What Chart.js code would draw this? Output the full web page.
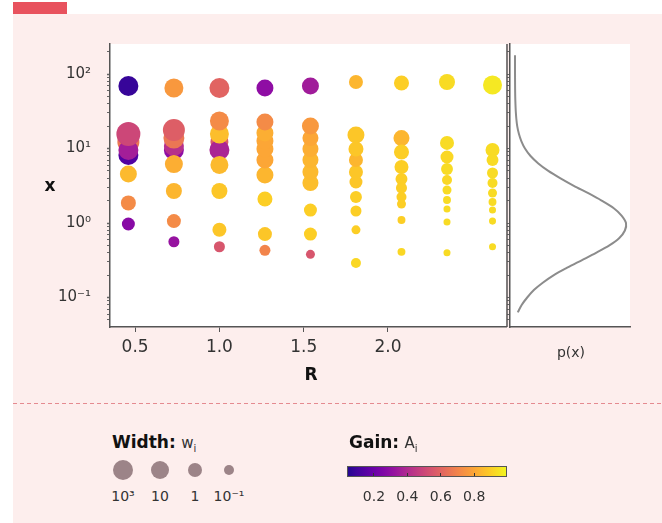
<!DOCTYPE html>
<html><head><meta charset="utf-8">
<script src="https://cdn.jsdelivr.net/npm/chart.js@4.4.0/dist/chart.umd.min.js"></script>
<style>
body{margin:0;width:662px;height:523px;background:#fff;position:relative;overflow:hidden;font-family:"DejaVu Sans",sans-serif;color:#333;}
#panel{position:absolute;left:13px;top:14px;width:649px;height:509px;background:#fdeeed;}
#redbar{position:absolute;left:13px;top:2px;width:54px;height:12px;background:#e8525e;}
.abs{position:absolute;white-space:nowrap;}
.ctr{transform:translate(-50%,-50%);}
#dash{position:absolute;left:13px;top:403px;width:649px;height:1px;background:repeating-linear-gradient(to right,#e58a90 0 4px,transparent 4px 7px);}
canvas{position:absolute;top:0;}
.lg{position:absolute;border-radius:50%;background:#9c8488;transform:translate(-50%,-50%);}
</style></head>
<body>
<div id="panel"></div>
<div id="redbar"></div>
<canvas id="main" width="508" height="400" style="left:0"></canvas>
<canvas id="side" width="162" height="400" style="left:500px"></canvas>
<div class="abs ctr" style="left:50px;top:185px;font-weight:bold;font-size:17px;color:#111">x</div>
<div class="abs ctr" style="left:311px;top:374px;font-weight:bold;font-size:17px;color:#111">R</div>
<div class="abs ctr" style="left:571px;top:352px;font-size:14px;color:#333">p(x)</div>
<div id="dash"></div>
<div class="abs" style="left:112px;top:432px;font-size:17px;color:#111"><b>Width:</b> <span style="font-size:15px;color:#333">w<sub style="font-size:10px">i</sub></span></div>
<div class="abs" style="left:349px;top:432px;font-size:17px;color:#111"><b>Gain:</b> <span style="font-size:15px;color:#333">A<sub style="font-size:10px">i</sub></span></div>
<div id="legend"></div>
<div id="cbar"></div>
<script>
// ---- data ----
const R = [0.46, 0.73, 1.0, 1.27, 1.54, 1.81, 2.08, 2.35, 2.62];
const X = [
  [69.0, 8.18, 12.2, 9.55, 15.7, 4.55, 1.86, 0.97],
  [64.9, 9.55, 10.8, 13.8, 17.7, 6.19, 2.69, 1.06, 0.56],
  [64.9, 12.2, 9.55, 15.7, 23.4, 6.01, 2.69, 0.81, 0.48],
  [64.9, 4.41, 7.01, 9.85, 12.6, 16.1, 22.7, 2.10, 0.71, 0.43],
  [69.0, 3.44, 4.84, 7.01, 9.85, 13.8, 20.0, 1.49, 0.71, 0.38],
  [78.1, 3.55, 4.84, 7.01, 9.85, 15.2, 2.23, 1.45, 0.81, 0.29],
  [75.7, 13.8, 8.97, 5.65, 3.90, 2.95, 2.23, 1.80, 1.10, 0.41],
  [78.1, 11.9, 7.69, 5.31, 3.78, 2.77, 2.04, 1.54, 1.03, 0.40],
  [71.2, 9.55, 7.01, 4.69, 3.44, 2.53, 1.91, 1.49, 1.06, 0.48]
];
const A = [
  [0.08, 0.14, 0.66, 0.36, 0.50, 0.85, 0.72, 0.28],
  [0.76, 0.30, 0.42, 0.66, 0.58, 0.82, 0.84, 0.72, 0.32],
  [0.60, 0.56, 0.38, 0.86, 0.72, 0.85, 0.88, 0.88, 0.55],
  [0.30, 0.84, 0.80, 0.80, 0.80, 0.82, 0.72, 0.90, 0.88, 0.70],
  [0.35, 0.86, 0.85, 0.84, 0.82, 0.80, 0.76, 0.90, 0.90, 0.55],
  [0.84, 0.88, 0.88, 0.84, 0.88, 0.88, 0.90, 0.90, 0.90, 0.92],
  [0.90, 0.84, 0.90, 0.90, 0.90, 0.90, 0.90, 0.90, 0.90, 0.92],
  [0.93, 0.93, 0.92, 0.93, 0.92, 0.93, 0.93, 0.93, 0.93, 0.93],
  [0.96, 0.93, 0.93, 0.93, 0.93, 0.93, 0.93, 0.93, 0.93, 0.93]
];
const W = [
  [1000, 1000, 1e4, 1000, 1e5, 5.6, 1.8, 0.56],
  [100, 1000, 1000, 3000, 1e4, 10, 3.2, 1, 0.18],
  [1000, 10, 1000, 100, 100, 10, 3.2, 1, 0.18],
  [5.6, 5.6, 5.6, 5.6, 5.6, 5.6, 5.6, 1.8, 1, 0.18],
  [5.6, 3.2, 3.2, 3.2, 3.2, 3.2, 5.6, 0.56, 0.56, 0.056],
  [1, 0.56, 1, 1, 1.8, 5.6, 0.3, 0.18, 0.056, 0.1],
  [1.8, 3.2, 1.8, 1, 0.3, 0.18, 0.1, 0.056, 0.03, 0.03],
  [3.2, 1, 0.56, 0.3, 0.1, 0.056, 0.03, 0.018, 0.018, 0.018],
  [100, 1, 0.3, 0.18, 0.1, 0.056, 0.03, 0.018, 0.018, 0.018]
];
// density p(x)
const pX = [178, 126, 100, 79.4, 63.1, 50.1, 39.8, 31.6, 25.1, 20.0, 15.8, 12.6, 10, 7.94, 6.31, 5.01, 3.98, 3.16, 2.51, 2.0, 1.58, 1.26, 1.0, 0.794, 0.631, 0.501, 0.398, 0.316, 0.251, 0.2, 0.158, 0.126, 0.1, 0.0794, 0.0631];
const pDensity = [0, 0, 0.0002, 0.0005, 0.001, 0.002, 0.004, 0.007, 0.012, 0.02, 0.035, 0.057, 0.09, 0.14, 0.21, 0.30, 0.41, 0.53, 0.66, 0.78, 0.89, 0.96, 1.0, 0.99, 0.94, 0.85, 0.73, 0.60, 0.47, 0.35, 0.25, 0.17, 0.11, 0.06, 0.025];
// ticks
const xTickValues = [0.5, 1.0, 1.5, 2.0];
const xTickLabels = ["0.5", "1.0", "1.5", "2.0"];
const yTickValues = [0.1, 1, 10, 100];
const yTickLabels = ["10\u207B\u00B9", "10\u2070", "10\u00B9", "10\u00B2"];
const legendWidths = [1000, 10, 1, 0.1];
const legendLabels = ["10\u00B3", "10", "1", "10\u207B\u00B9"];
const cbTickValues = [0.2, 0.4, 0.6, 0.8];
const cbTickLabels = ["0.2", "0.4", "0.6", "0.8"];
const cbMin = 0.045, cbMax = 0.99;

// ---- styling helpers ----
const plasmaStops = ["#0d0887","#41049d","#6a00a8","#8f0da4","#b12a90","#cc4778","#e16462","#f2844b","#fca636","#fcce25","#f0f921"];
function hex2rgb(h){return [1,3,5].map(i=>parseInt(h.substr(i,2),16));}
function plasma(t){
  t=Math.max(0,Math.min(1,t));
  const p=t*10, i=Math.min(9,Math.floor(p)), f=p-i;
  const a=hex2rgb(plasmaStops[i]), b=hex2rgb(plasmaStops[i+1]);
  return 'rgb('+a.map((v,k)=>Math.round(v+(b[k]-v)*f)).join(',')+')';
}
const rL=[-2,-1,0,1,3,5], rR=[3,5,7,9,10,12];
function radiusFor(w){
  const l=Math.log10(w);
  for(let i=0;i<rL.length-1;i++){ if(l<=rL[i+1]||i===rL.length-2){const f=(l-rL[i])/(rL[i+1]-rL[i]);return rR[i]+f*(rR[i+1]-rR[i]);} }
}

const yMin = Math.pow(10,-1.396), yMax = Math.pow(10,2.403);
function logTicks(){
  const t=[];
  for(let e=-2;e<=2;e++) for(let s=1;s<=9;s++){const v=s*Math.pow(10,e); if(v>=yMin&&v<=yMax) t.push(v);}
  return t;
}
function yLabel(v){
  for(let i=0;i<yTickValues.length;i++) if(Math.abs(v-yTickValues[i])/yTickValues[i]<1e-6) return yTickLabels[i];
  return '';
}
function noPad(s){s.paddingLeft=0;s.paddingRight=0;s.paddingTop=0;s.paddingBottom=0;}

const pts=[];
R.forEach((r,i)=>X[i].forEach((xv,j)=>pts.push({x:r,y:xv,w:W[i][j],g:A[i][j]})));

const whiteArea={id:'whiteArea',beforeDraw(c){const a=c.chartArea,ctx=c.ctx;ctx.save();ctx.fillStyle='#fff';ctx.fillRect(a.left,a.top,a.right-a.left,a.bottom-a.top);ctx.restore();}};

new Chart(document.getElementById('main'),{
  type:'scatter',
  data:{datasets:[{data:pts,
    pointRadius:c=>radiusFor(c.raw.w),
    pointHoverRadius:c=>radiusFor(c.raw.w),
    backgroundColor:c=>plasma(c.raw.g),
    borderWidth:0, clip:false}]},
  options:{responsive:false,animation:false,devicePixelRatio:1,
    layout:{autoPadding:false,padding:{top:44,right:2,left:0,bottom:0}},
    plugins:{legend:{display:false},tooltip:{enabled:false}},
    scales:{
      x:{type:'linear',min:0.351,max:2.70,
        afterFit(s){s.height=73;noPad(s);},
        afterBuildTicks(s){s.ticks=xTickValues.map(v=>({value:v}));},
        ticks:{autoSkip:false,maxRotation:0,padding:5,color:'#333',font:{family:'DejaVu Sans',size:17},
          callback:(v)=>{const i=xTickValues.findIndex(t=>Math.abs(t-v)<1e-9);return i>=0?xTickLabels[i]:'';}},
        grid:{drawOnChartArea:false,drawTicks:true,tickLength:5,tickColor:'#555'},
        border:{color:'#555',width:1.5}},
      y:{type:'logarithmic',min:yMin,max:yMax,
        afterFit(s){s.width=110;noPad(s);},
        afterBuildTicks(s){s.ticks=logTicks().map(v=>({value:v}));},
        ticks:{autoSkip:false,padding:16,color:'#333',font:{family:'DejaVu Sans',size:15},callback:(v)=>yLabel(v)},
        grid:{drawOnChartArea:false,drawTicks:true,tickLength:3,tickColor:'#666',tickWidth:c=>yLabel(c.tick?c.tick.value:0)?1.5:1},
        border:{color:'#555',width:1.5}}
    }},
  plugins:[whiteArea]
});

const sideLine={id:'sideLine',afterDraw(c){const ctx=c.ctx,a=c.chartArea;ctx.save();ctx.strokeStyle='#555';ctx.lineWidth=1.5;ctx.beginPath();ctx.moveTo(a.left-3,a.top);ctx.lineTo(a.left-3,a.bottom);ctx.stroke();ctx.restore();}};
new Chart(document.getElementById('side'),{
  type:'scatter',
  data:{datasets:[{data:pX.map((v,i)=>({x:pDensity[i],y:v})),showLine:true,borderColor:'#8c8c8c',borderWidth:2,pointRadius:0,tension:0.3,fill:false}]},
  options:{responsive:false,animation:false,devicePixelRatio:1,
    layout:{autoPadding:false,padding:{top:44,right:32,left:0,bottom:0}},
    plugins:{legend:{display:false},tooltip:{enabled:false}},
    scales:{
      x:{type:'linear',min:-0.045,max:1.036,afterFit(s){s.height=73;noPad(s);},
        ticks:{display:false},grid:{drawOnChartArea:false,drawTicks:false},border:{color:'#555',width:1.5}},
      y:{type:'logarithmic',min:yMin,max:yMax,afterFit(s){s.width=10;noPad(s);},
        afterBuildTicks(s){s.ticks=logTicks().map(v=>({value:v}));},
        ticks:{display:false,autoSkip:false},
        grid:{drawOnChartArea:false,drawTicks:true,tickLength:3,tickColor:'#666'},
        border:{color:'#555',width:1.5}}
    }},
  plugins:[whiteArea,sideLine]
});

// ---- legends ----
const lgX=[123,160,195,229];
const lg=document.getElementById('legend');
legendWidths.forEach((w,i)=>{
  const r=radiusFor(w);
  const d=document.createElement('div');d.className='lg';
  d.style.cssText+=`left:${lgX[i]}px;top:470px;width:${2*r}px;height:${2*r}px;`;
  lg.appendChild(d);
  const t=document.createElement('div');t.className='abs ctr';
  t.style.cssText+=`left:${lgX[i]}px;top:496px;font-size:14px;color:#333;`;
  t.textContent=legendLabels[i];lg.appendChild(t);
});
const cb=document.getElementById('cbar');
const cbL=348,cbW=158,cbT=467,cbH=9;
const stops=[];for(let k=0;k<=20;k++){const t=k/20;stops.push(plasma(cbMin+t*(cbMax-cbMin))+' '+(t*100)+'%');}
const bar=document.createElement('div');
bar.style.cssText=`position:absolute;left:${cbL}px;top:${cbT}px;width:${cbW}px;height:${cbH}px;background:linear-gradient(to right,${stops.join(',')});box-shadow:0 0 0 1px #555;`;
cb.appendChild(bar);
cbTickValues.forEach((v,i)=>{
  const x=cbL+(v-cbMin)/(cbMax-cbMin)*cbW;
  const tk=document.createElement('div');
  tk.style.cssText=`position:absolute;left:${x-0.5}px;top:${cbT+cbH-3}px;width:1px;height:3px;background:#333;`;
  cb.appendChild(tk);
  const t=document.createElement('div');t.className='abs ctr';
  t.style.cssText+=`left:${x}px;top:496px;font-size:14px;color:#333;`;
  t.textContent=cbTickLabels[i];cb.appendChild(t);
});
</script>
</body></html>
